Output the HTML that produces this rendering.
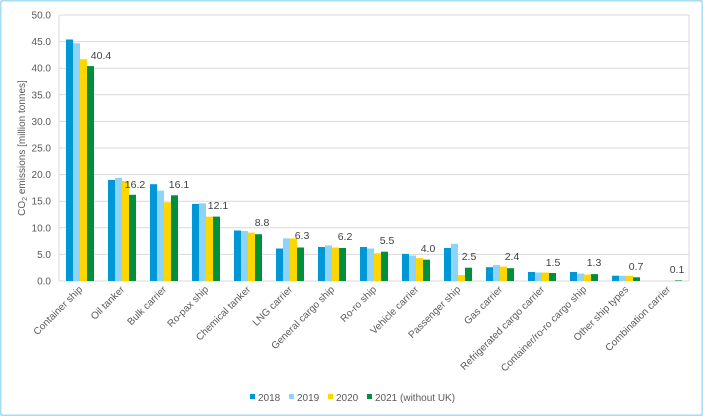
<!DOCTYPE html>
<html><head><meta charset="utf-8"><style>
html,body{margin:0;padding:0;background:#fff;}
svg{display:block;font-family:"Liberation Sans",sans-serif;}
</style></head><body>
<svg width="703" height="416" viewBox="0 0 703 416" xmlns="http://www.w3.org/2000/svg">
<rect x="0.5" y="0.5" width="702" height="415" rx="3" fill="#fff" stroke="#a8dcf0" stroke-width="2"/>
<g stroke="#d9d9d9" stroke-width="1">
<line x1="59" y1="254.4" x2="689" y2="254.4"/>
<line x1="59" y1="227.8" x2="689" y2="227.8"/>
<line x1="59" y1="201.2" x2="689" y2="201.2"/>
<line x1="59" y1="174.6" x2="689" y2="174.6"/>
<line x1="59" y1="148" x2="689" y2="148"/>
<line x1="59" y1="121.4" x2="689" y2="121.4"/>
<line x1="59" y1="94.8" x2="689" y2="94.8"/>
<line x1="59" y1="68.2" x2="689" y2="68.2"/>
<line x1="59" y1="41.6" x2="689" y2="41.6"/>
<line x1="59" y1="15" x2="689" y2="15"/>
<line x1="59" y1="15" x2="59" y2="281"/>
<line x1="689" y1="15" x2="689" y2="281"/>
<line x1="59" y1="281" x2="689" y2="281"/>
</g>
<g font-size="10" fill="#595959" text-anchor="end">
<text x="51" y="284.5">0.0</text>
<text x="51" y="257.9">5.0</text>
<text x="51" y="231.3">10.0</text>
<text x="51" y="204.7">15.0</text>
<text x="51" y="178.1">20.0</text>
<text x="51" y="151.5">25.0</text>
<text x="51" y="124.9">30.0</text>
<text x="51" y="98.3">35.0</text>
<text x="51" y="71.7">40.0</text>
<text x="51" y="45.1">45.0</text>
<text x="51" y="18.5">50.0</text>
</g>
<text transform="translate(25,148) rotate(-90)" font-size="10" fill="#595959" text-anchor="middle">CO<tspan font-size="7" dy="2">2</tspan><tspan dy="-2"> emissions [million tonnes]</tspan></text>
<g>
<rect x="66" y="39.5" width="7" height="241.5" fill="#0097d6"/><rect x="73" y="43.2" width="7" height="237.8" fill="#8ed3f8"/><rect x="80" y="59.2" width="7" height="221.8" fill="#ffd700"/><rect x="87" y="66.1" width="7" height="214.9" fill="#008f3a"/>
<rect x="108" y="179.9" width="7" height="101.1" fill="#0097d6"/><rect x="115" y="177.8" width="7" height="103.2" fill="#8ed3f8"/><rect x="122" y="181" width="7" height="100" fill="#ffd700"/><rect x="129" y="194.8" width="7" height="86.2" fill="#008f3a"/>
<rect x="150" y="184.2" width="7" height="96.8" fill="#0097d6"/><rect x="157" y="190.6" width="7" height="90.4" fill="#8ed3f8"/><rect x="164" y="202.3" width="7" height="78.7" fill="#ffd700"/><rect x="171" y="195.3" width="7" height="85.7" fill="#008f3a"/>
<rect x="192" y="203.9" width="7" height="77.1" fill="#0097d6"/><rect x="199" y="203.3" width="7" height="77.7" fill="#8ed3f8"/><rect x="206" y="216.6" width="7" height="64.4" fill="#ffd700"/><rect x="213" y="216.6" width="7" height="64.4" fill="#008f3a"/>
<rect x="234" y="230.5" width="7" height="50.5" fill="#0097d6"/><rect x="241" y="231" width="7" height="50" fill="#8ed3f8"/><rect x="248" y="232.6" width="7" height="48.4" fill="#ffd700"/><rect x="255" y="234.2" width="7" height="46.8" fill="#008f3a"/>
<rect x="276" y="248.5" width="7" height="32.5" fill="#0097d6"/><rect x="283" y="238.4" width="7" height="42.6" fill="#8ed3f8"/><rect x="290" y="238.4" width="7" height="42.6" fill="#ffd700"/><rect x="297" y="247.5" width="7" height="33.5" fill="#008f3a"/>
<rect x="318" y="247" width="7" height="34" fill="#0097d6"/><rect x="325" y="245.4" width="7" height="35.6" fill="#8ed3f8"/><rect x="332" y="247.5" width="7" height="33.5" fill="#ffd700"/><rect x="339" y="248" width="7" height="33" fill="#008f3a"/>
<rect x="360" y="247" width="7" height="34" fill="#0097d6"/><rect x="367" y="248.5" width="7" height="32.5" fill="#8ed3f8"/><rect x="374" y="253.3" width="7" height="27.7" fill="#ffd700"/><rect x="381" y="251.7" width="7" height="29.3" fill="#008f3a"/>
<rect x="402" y="253.9" width="7" height="27.1" fill="#0097d6"/><rect x="409" y="255.5" width="7" height="25.5" fill="#8ed3f8"/><rect x="416" y="258.1" width="7" height="22.9" fill="#ffd700"/><rect x="423" y="259.7" width="7" height="21.3" fill="#008f3a"/>
<rect x="444" y="248" width="7" height="33" fill="#0097d6"/><rect x="451" y="243.8" width="7" height="37.2" fill="#8ed3f8"/><rect x="458" y="275.1" width="7" height="5.9" fill="#ffd700"/><rect x="465" y="267.7" width="7" height="13.3" fill="#008f3a"/>
<rect x="486" y="267.2" width="7" height="13.8" fill="#0097d6"/><rect x="493" y="265" width="7" height="16" fill="#8ed3f8"/><rect x="500" y="266.6" width="7" height="14.4" fill="#ffd700"/><rect x="507" y="268.2" width="7" height="12.8" fill="#008f3a"/>
<rect x="528" y="272" width="7" height="9" fill="#0097d6"/><rect x="535" y="272.5" width="7" height="8.5" fill="#8ed3f8"/><rect x="542" y="272.5" width="7" height="8.5" fill="#ffd700"/><rect x="549" y="273" width="7" height="8" fill="#008f3a"/>
<rect x="570" y="272" width="7" height="9" fill="#0097d6"/><rect x="577" y="273.6" width="7" height="7.4" fill="#8ed3f8"/><rect x="584" y="274.6" width="7" height="6.4" fill="#ffd700"/><rect x="591" y="274.1" width="7" height="6.9" fill="#008f3a"/>
<rect x="612" y="275.7" width="7" height="5.3" fill="#0097d6"/><rect x="619" y="275.7" width="7" height="5.3" fill="#8ed3f8"/><rect x="626" y="275.7" width="7" height="5.3" fill="#ffd700"/><rect x="633" y="277.3" width="7" height="3.7" fill="#008f3a"/>
<rect x="675" y="280.4" width="7" height="0.6" fill="#008f3a"/>
</g>
<g font-size="10.5" fill="#404040" text-anchor="middle">
<text x="101" y="59">40.4</text>
<text x="135" y="188">16.2</text>
<text x="179" y="188">16.1</text>
<text x="218" y="209">12.1</text>
<text x="262" y="226">8.8</text>
<text x="302" y="239">6.3</text>
<text x="345" y="240">6.2</text>
<text x="387" y="244">5.5</text>
<text x="428" y="252">4.0</text>
<text x="469" y="260">2.5</text>
<text x="512" y="260">2.4</text>
<text x="553" y="266">1.5</text>
<text x="594" y="266">1.3</text>
<text x="636" y="270">0.7</text>
<text x="677" y="273">0.1</text>
</g>
<g font-size="10" fill="#595959" text-anchor="end">
<text transform="translate(83,290) rotate(-45)">Container ship</text>
<text transform="translate(125,290) rotate(-45)">Oil tanker</text>
<text transform="translate(167,290) rotate(-45)">Bulk carrier</text>
<text transform="translate(209,290) rotate(-45)">Ro-pax ship</text>
<text transform="translate(251,290) rotate(-45)">Chemical tanker</text>
<text transform="translate(293,290) rotate(-45)">LNG carrier</text>
<text transform="translate(335,290) rotate(-45)">General cargo ship</text>
<text transform="translate(377,290) rotate(-45)">Ro-ro ship</text>
<text transform="translate(419,290) rotate(-45)">Vehicle carrier</text>
<text transform="translate(461,290) rotate(-45)">Passenger ship</text>
<text transform="translate(503,290) rotate(-45)">Gas carrier</text>
<text transform="translate(545,290) rotate(-45)">Refrigerated cargo carrier</text>
<text transform="translate(587,290) rotate(-45)">Container/ro-ro cargo ship</text>
<text transform="translate(629,290) rotate(-45)">Other ship types</text>
<text transform="translate(671,290) rotate(-45)">Combination carrier</text>
</g>
<g font-size="10" fill="#595959">
<rect x="250" y="394" width="5" height="5" fill="#0097d6"/><text x="258" y="401">2018</text>
<rect x="289" y="394" width="5" height="5" fill="#8ed3f8"/><text x="297" y="401">2019</text>
<rect x="328" y="394" width="5" height="5" fill="#ffd700"/><text x="336" y="401">2020</text>
<rect x="367" y="394" width="5" height="5" fill="#008f3a"/><text x="375" y="401">2021 (without UK)</text>
</g>
</svg>
</body></html>
